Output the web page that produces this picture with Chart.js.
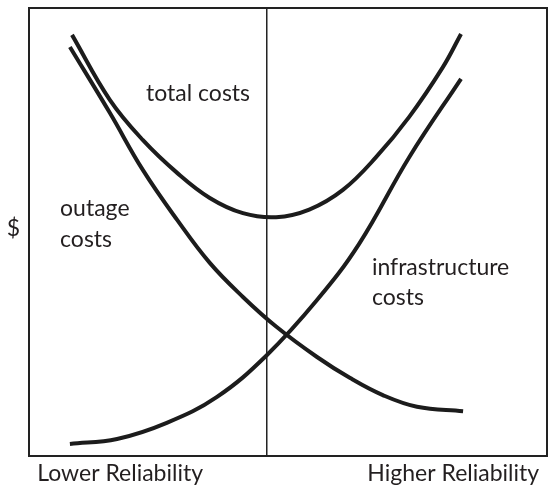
<!DOCTYPE html>
<html>
<head>
<meta charset="utf-8">
<script src="https://cdn.jsdelivr.net/npm/chart.js@4"></script>
<style>
  body { margin: 0; background: #fff; }
</style>
</head>
<body>
<canvas id="chart" width="552" height="489"></canvas>
<script>
// reliability (0 = lower, 100 = higher) vs cost
const totalX = [8.3, 15.6, 22.0, 28.6, 34.9, 41.3, 47.7, 54.1, 60.6, 67.0, 73.4, 79.9, 83.4];
const totalY = [94.0, 79.5, 70.5, 63.2, 57.6, 54.2, 53.3, 55.0, 59.4, 66.7, 75.7, 86.8, 94.2];

const outageX = [7.9, 15.6, 22.0, 28.6, 34.9, 41.3, 47.7, 55.6, 62.0, 68.3, 74.9, 83.8];
const outageY = [91.3, 76.6, 63.8, 52.7, 43.1, 35.5, 28.9, 22.1, 17.4, 13.6, 11.0, 10.0];

const infraX = [7.9, 17.0, 26.6, 36.3, 45.9, 55.6, 63.7, 73.4, 83.4];
const infraY = [2.7, 3.8, 7.4, 13.2, 22.5, 34.8, 47.3, 66.7, 84.2];

const optimumX = [45.9, 45.9];
const optimumY = [0, 100];

const xTickLabels = ['Lower Reliability', 'Higher Reliability'];
const xTickValues = [17.6, 81.9];
const yTickLabels = ['$'];
const yTickValues = [50.7];

// curve labels, placed in data units
const curveLabels = [
    { text: 'total costs', x: 22.6, y: 79.2 },
    { text: 'outage', x: 6.0, y: 53.6 },
    { text: 'costs', x: 6.0, y: 46.7 },
    { text: 'infrastructure', x: 66.2, y: 40.4 },
    { text: 'costs', x: 66.2, y: 33.7 }
];

const ink = '#1c1c1c';
const fontFamily = 'Lato, "Open Sans", sans-serif';

function toPoints(xs, ys) {
    return xs.map((x, i) => ({ x: x, y: ys[i] }));
}

function curve(xs, ys) {
    return {
        data: toPoints(xs, ys),
        borderColor: ink,
        borderWidth: 4,
        pointRadius: 0,
        tension: 0.4,
        fill: false
    };
}

const frameAndLabels = {
    id: 'frameAndLabels',
    beforeDatasetsDraw(chart) {
        const ctx = chart.ctx;
        const a = chart.chartArea;
        ctx.save();
        ctx.strokeStyle = '#222';
        ctx.lineWidth = 2;
        ctx.strokeRect(a.left, a.top, a.right - a.left, a.bottom - a.top);
        ctx.restore();
    },
    afterDatasetsDraw(chart) {
        const ctx = chart.ctx;
        const xs = chart.scales.x;
        const ys = chart.scales.y;
        ctx.save();
        ctx.fillStyle = '#231f20';
        ctx.font = '23px ' + fontFamily;
        ctx.textAlign = 'left';
        ctx.textBaseline = 'alphabetic';
        curveLabels.forEach(l => {
            ctx.fillText(l.text, xs.getPixelForValue(l.x), ys.getPixelForValue(l.y));
        });
        ctx.restore();
    }
};

new Chart(document.getElementById('chart'), {
    type: 'line',
    data: {
        datasets: [
            curve(totalX, totalY),
            curve(outageX, outageY),
            curve(infraX, infraY),
            {
                data: toPoints(optimumX, optimumY),
                borderColor: '#222',
                borderWidth: 1.5,
                pointRadius: 0,
                tension: 0
            }
        ]
    },
    options: {
        responsive: false,
        animation: false,
        layout: { padding: { top: 8, right: 5, left: 0, bottom: 0 } },
        plugins: { legend: { display: false }, tooltip: { enabled: false } },
        scales: {
            x: {
                type: 'linear',
                min: 0,
                max: 100,
                grid: { display: false, drawTicks: false },
                border: { display: false },
                afterBuildTicks(scale) {
                    scale.ticks = xTickValues.map(v => ({ value: v }));
                },
                afterFit(scale) {
                    scale.height = 33;
                    scale.paddingLeft = 0;
                    scale.paddingRight = 0;
                },
                ticks: {
                    autoSkip: false,
                    maxRotation: 0,
                    padding: 4,
                    color: '#231f20',
                    font: { family: fontFamily, size: 23 },
                    callback: (v, i) => xTickLabels[i]
                }
            },
            y: {
                type: 'linear',
                min: 0,
                max: 100,
                grid: { display: false, drawTicks: false },
                border: { display: false },
                afterBuildTicks(scale) {
                    scale.ticks = yTickValues.map(v => ({ value: v }));
                },
                afterFit(scale) {
                    scale.width = 29;
                    scale.paddingTop = 0;
                    scale.paddingBottom = 0;
                },
                ticks: {
                    padding: 9,
                    color: '#231f20',
                    font: { family: fontFamily, size: 23 },
                    callback: (v, i) => yTickLabels[i]
                }
            }
        }
    },
    plugins: [frameAndLabels]
});
</script>
</body>
</html>
